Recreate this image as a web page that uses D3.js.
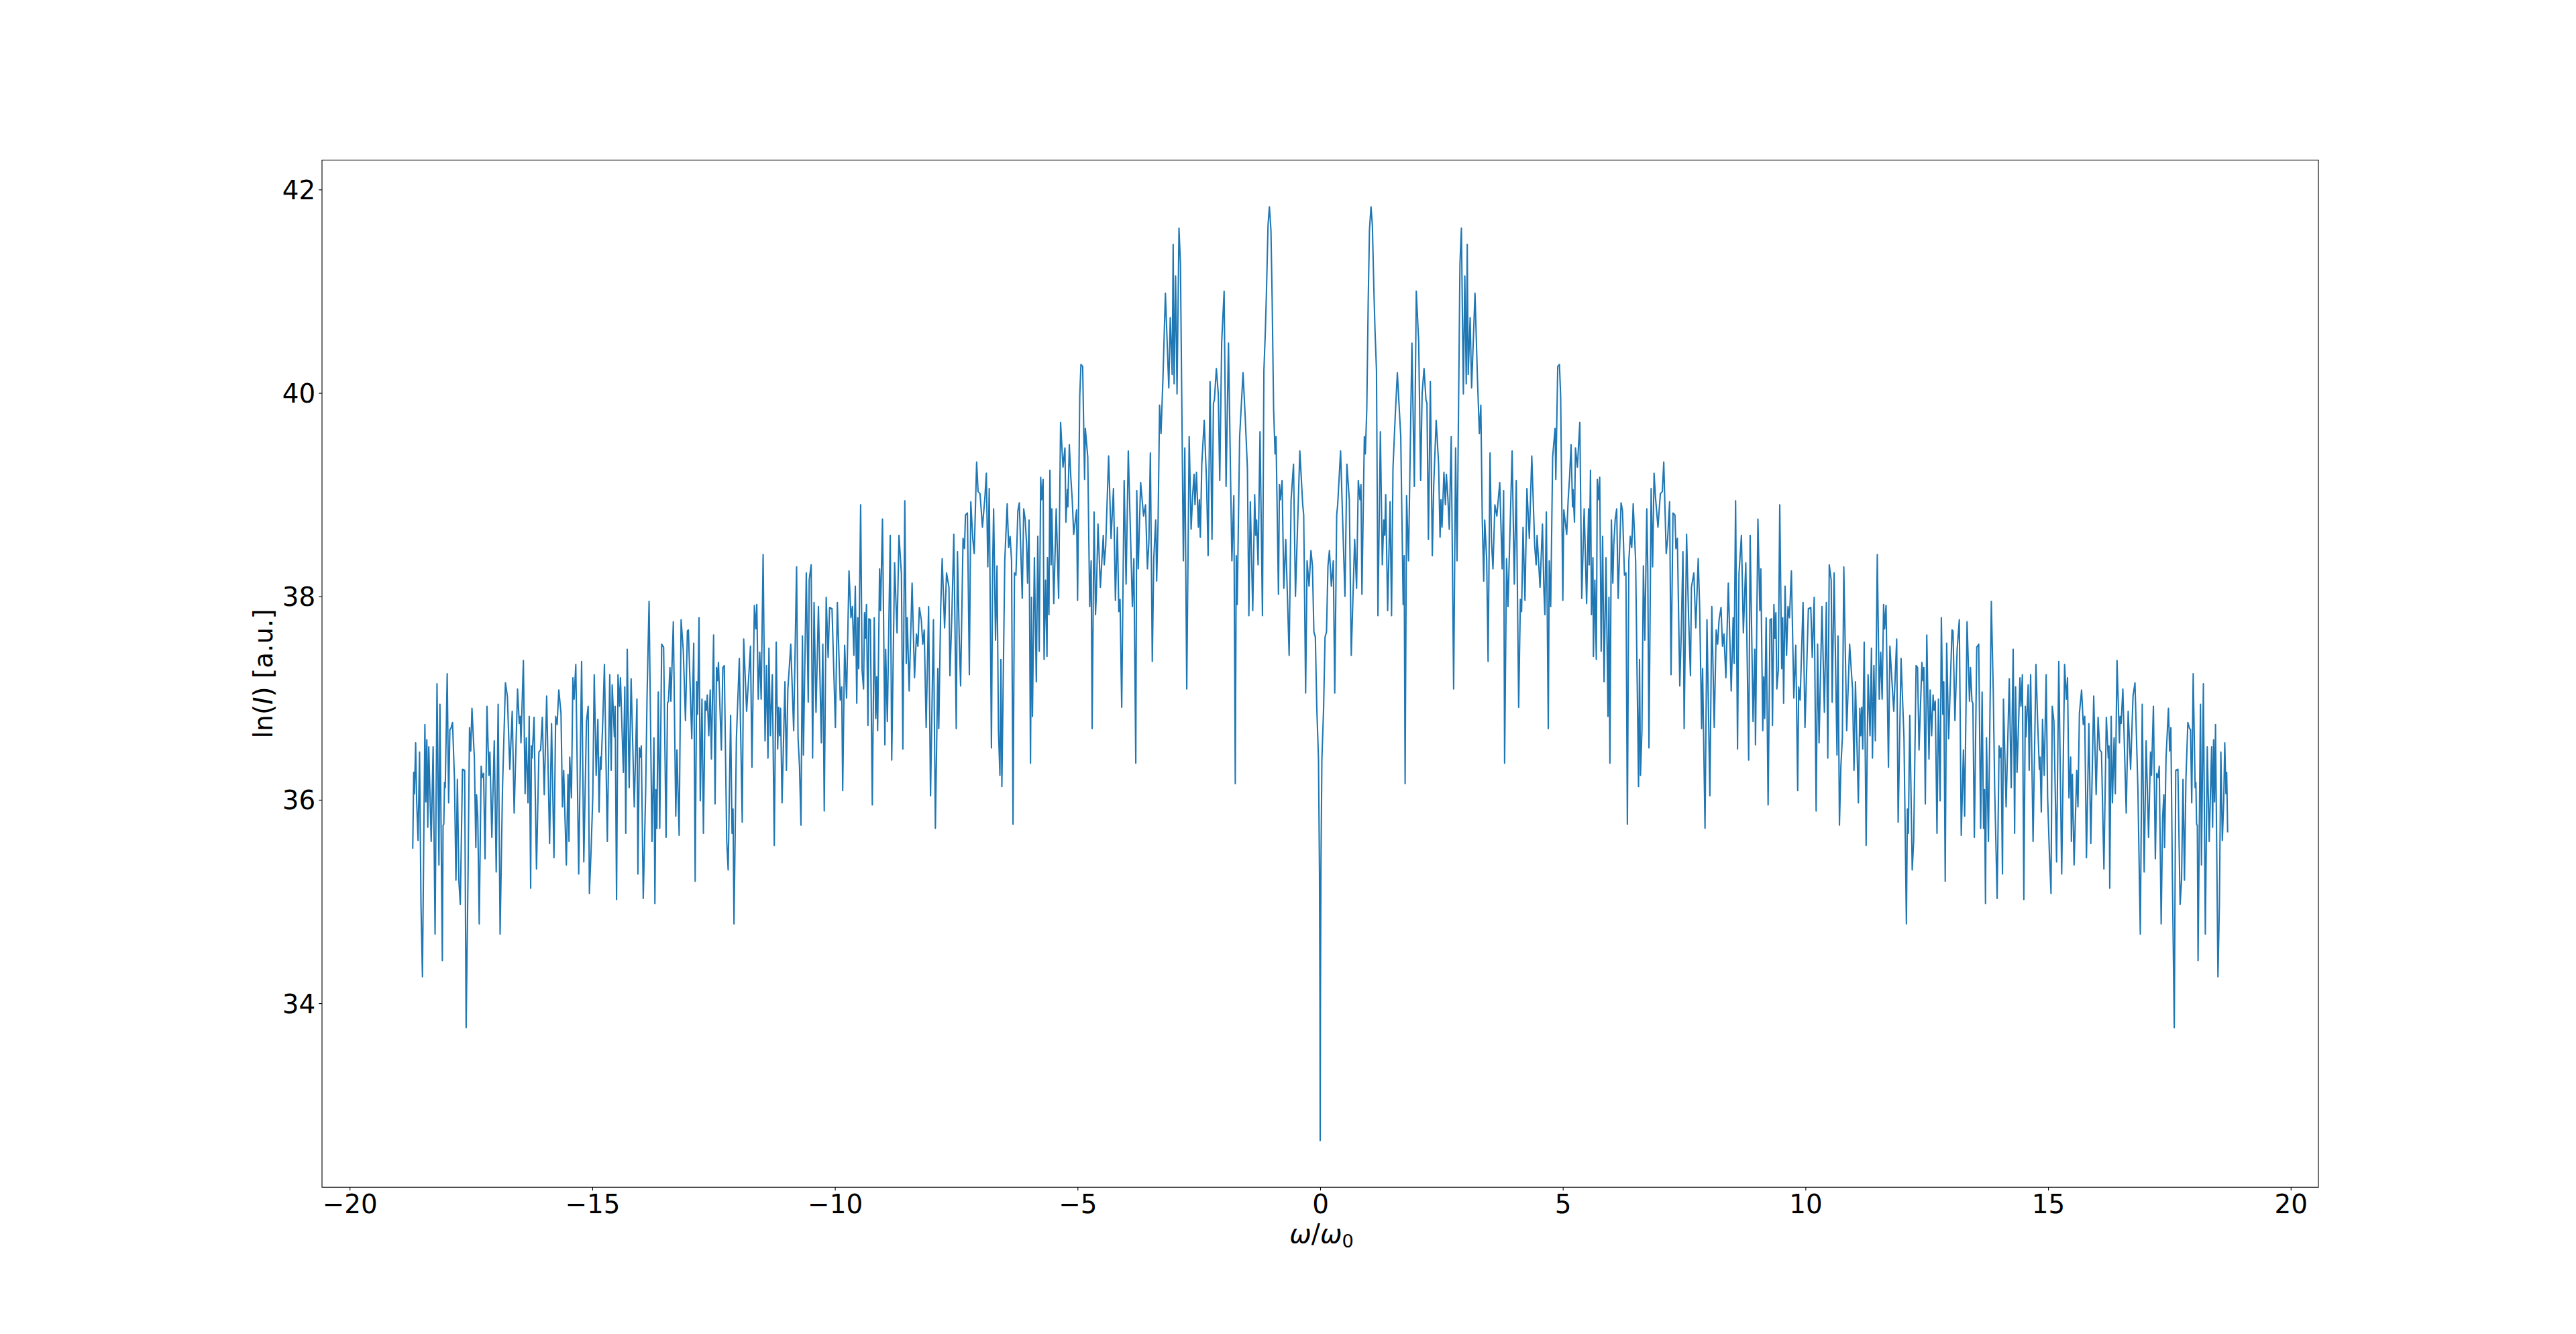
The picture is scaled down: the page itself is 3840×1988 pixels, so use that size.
<!DOCTYPE html>
<html>
<head>
<meta charset="utf-8">
<script src="https://cdn.jsdelivr.net/npm/d3@7"></script>
<style>
html, body { margin: 0; padding: 0; background: #ffffff; }
svg { display: block; }
</style>
</head>
<body>
<svg id="chart" width="3840" height="1988"></svg>
<script>
// Angular frequency grid (positive side, in units of omega_0)
const omegaPos = [
  0, 0.005, 0.015, 0.035, 0.07, 0.1, 0.13, 0.16, 0.19, 0.23, 0.27, 0.3, 0.34, 0.36, 0.42, 0.51, 0.55, 0.6, 0.64, 0.71,
  0.75, 0.785, 0.82, 0.84, 0.86, 0.91, 0.93, 0.96, 0.99, 1.015, 1.047, 1.075, 1.107, 1.13, 1.16, 1.19, 1.24, 1.28, 1.31, 1.33,
  1.35, 1.39, 1.44, 1.47, 1.5, 1.545, 1.59, 1.66, 1.71, 1.73, 1.75, 1.78, 1.82, 1.89, 1.94, 1.98, 2.03, 2.07, 2.1, 2.14,
  2.18, 2.2, 2.23, 2.27, 2.31, 2.34, 2.39, 2.44, 2.47, 2.49, 2.51, 2.55, 2.58, 2.6, 2.63, 2.66, 2.7, 2.75, 2.79, 2.82,
  2.88, 2.91, 2.95, 2.98, 3.01, 3.03, 3.05, 3.09, 3.12, 3.19, 3.24, 3.28, 3.31, 3.34, 3.37, 3.39, 3.43, 3.46, 3.5, 3.53,
  3.56, 3.6, 3.64, 3.7, 3.75, 3.78, 3.8, 3.84, 3.87, 3.955, 4.0, 4.04, 4.09, 4.125, 4.15, 4.18, 4.22, 4.26, 4.31, 4.36,
  4.42, 4.45, 4.47, 4.53, 4.58, 4.61, 4.63, 4.66, 4.7, 4.72, 4.75, 4.79, 4.84, 4.855, 4.895, 4.93, 4.955, 5.0, 5.02, 5.08, 5.11,
  5.14, 5.17, 5.2, 5.21, 5.24, 5.26, 5.3, 5.35, 5.39, 5.44, 5.49, 5.53, 5.545, 5.57, 5.59, 5.62, 5.63, 5.66, 5.69, 5.71,
  5.74, 5.76, 5.79, 5.82, 5.85, 5.89, 5.93, 5.95, 5.97, 6.0, 6.03, 6.05, 6.08, 6.11, 6.14, 6.2, 6.23, 6.27, 6.3, 6.33,
  6.36, 6.39, 6.42, 6.45, 6.5, 6.56, 6.58, 6.6, 6.63, 6.66, 6.69, 6.73, 6.75, 6.775, 6.82, 6.85, 6.88, 6.91, 6.96, 7.01,
  7.05, 7.08, 7.13, 7.16, 7.2, 7.23, 7.27, 7.31, 7.33, 7.36, 7.41, 7.44, 7.475, 7.5, 7.55, 7.59, 7.63, 7.65, 7.7, 7.74,
  7.79, 7.82, 7.86, 7.88, 7.93, 7.97, 8.03, 8.07, 8.12, 8.16, 8.19, 8.22, 8.26, 8.29, 8.32, 8.36, 8.41, 8.47, 8.51, 8.53,
  8.56, 8.6, 8.63, 8.68, 8.72, 8.77, 8.83, 8.86, 8.92, 8.955, 8.97, 9.02, 9.06, 9.08, 9.12, 9.14, 9.16, 9.19, 9.23, 9.27,
  9.3, 9.32, 9.35, 9.37, 9.39, 9.41, 9.44, 9.47, 9.51, 9.53, 9.55, 9.58, 9.61, 9.64, 9.67, 9.71, 9.76, 9.8, 9.84, 9.86,
  9.89, 9.95, 9.99, 10.06, 10.11, 10.14, 10.18, 10.22, 10.25, 10.28, 10.34, 10.39, 10.43, 10.46, 10.49, 10.53, 10.55, 10.59, 10.65, 10.67,
  10.7, 10.73, 10.76, 10.79, 10.85, 10.91, 10.95, 10.97, 11.0, 11.03, 11.09, 11.12, 11.14, 11.16, 11.18, 11.21, 11.25, 11.29, 11.33, 11.36,
  11.38, 11.41, 11.44, 11.48, 11.52, 11.55, 11.58, 11.61, 11.63, 11.66, 11.71, 11.74, 11.78, 11.82, 11.88, 11.91, 11.97, 12.03, 12.08, 12.1,
  12.12, 12.15, 12.2, 12.23, 12.28, 12.31, 12.34, 12.4, 12.42, 12.44, 12.47, 12.5, 12.545, 12.57, 12.6, 12.63, 12.65, 12.675, 12.71, 12.74,
  12.775, 12.8, 12.83, 12.85, 12.88, 12.91, 12.95, 13.02, 13.04, 13.08, 13.125, 13.17, 13.21, 13.255, 13.28, 13.33, 13.38, 13.4, 13.43, 13.45,
  13.48, 13.53, 13.57, 13.61, 13.64, 13.67, 13.69, 13.71, 13.73, 13.77, 13.83, 13.87, 13.9, 13.95, 13.99, 14.01, 14.03, 14.06, 14.08, 14.135,
  14.2, 14.24, 14.28, 14.31, 14.33, 14.36, 14.42, 14.44, 14.47, 14.5, 14.53, 14.545, 14.59, 14.61, 14.64, 14.69, 14.75, 14.785, 14.82, 14.835,
  14.86, 14.885, 14.92, 14.96, 14.99, 15.025, 15.06, 15.085, 15.12, 15.175, 15.22, 15.28, 15.34, 15.375, 15.4, 15.43, 15.465, 15.48, 15.5, 15.535,
  15.59, 15.615, 15.645, 15.69, 15.725, 15.755, 15.79, 15.84, 15.88, 15.94, 15.99, 16.03, 16.065, 16.1, 16.15, 16.2, 16.24, 16.255, 16.27, 16.3,
  16.325, 16.36, 16.385, 16.42, 16.47, 16.485, 16.505, 16.54, 16.61, 16.65, 16.7, 16.75, 16.79, 16.85, 16.9, 16.94, 16.98, 17.02, 17.07, 17.11,
  17.13, 17.17, 17.21, 17.24, 17.27, 17.29, 17.33, 17.36, 17.385, 17.4, 17.43, 17.48, 17.505, 17.53, 17.56, 17.6, 17.63, 17.675, 17.72, 17.75,
  17.78, 17.81, 17.84, 17.88, 17.915, 17.935, 17.96, 17.99, 18.03, 18.045, 18.06, 18.075, 18.09, 18.14, 18.16, 18.2, 18.24, 18.28, 18.32, 18.37,
  18.39, 18.41, 18.43, 18.45, 18.5, 18.53, 18.56, 18.59, 18.62, 18.64, 18.665, 18.68, 18.7
];

// ln(I) read at +omegaPos[i]
const lnIPos = [
  32.65, 34.0, 35.3, 36.4, 36.9, 37.6, 37.65, 38.3, 38.45, 38.1, 38.35, 37.05, 38.8, 38.9, 39.43, 38.0, 39.3, 38.95, 37.42, 38.56,
  38.08, 39.14, 38.95, 39.1, 38.02, 39.57, 39.4, 39.84, 40.92, 41.6, 41.83, 41.65, 41.0, 40.61, 40.22, 37.81, 39.62, 38.31, 38.75, 38.6,
  39.0, 37.86, 38.93, 37.81, 39.26, 39.76, 40.2, 39.57, 37.92, 38.4, 36.16, 38.99, 38.35, 40.49, 39.08, 41.0, 40.5, 39.14, 39.99, 40.24,
  39.93, 39.9, 38.56, 40.11, 38.4, 39.1, 39.73, 39.3, 38.58, 38.95, 38.68, 39.22, 38.9, 39.2, 38.98, 38.66, 39.57, 37.09, 39.46, 38.35,
  41.27, 41.62, 39.99, 41.15, 40.09, 41.46, 40.18, 40.74, 40.05, 40.98, 40.15, 39.6, 39.88, 38.75, 38.15, 38.75, 38.37, 37.36, 39.41, 38.54,
  38.27, 38.9, 38.79, 39.12, 38.27, 39.04, 36.36, 38.37, 37.9, 39.43, 38.12, 39.14, 36.91, 37.97, 37.85, 38.68, 37.96, 39.06, 38.57, 39.38,
  38.5, 38.31, 38.6, 38.09, 38.71, 38.06, 37.82, 38.83, 36.7, 38.35, 37.9, 39.37, 39.65, 39.15, 40.26, 40.28, 39.97, 37.96, 38.85, 38.61, 38.95,
  39.18, 39.49, 38.88, 39.05, 38.73, 39.46, 39.27, 39.71, 37.98, 38.86, 37.93, 38.86, 38.31, 39.24, 37.82, 38.38, 37.41, 38.16, 37.38, 39.15,
  38.95, 39.17, 37.46, 38.59, 37.16, 38.38, 36.82, 37.99, 36.36, 38.75, 38.13, 38.51, 38.76, 38.86, 37.98, 38.92, 38.84, 38.21, 38.23, 35.76,
  38.35, 38.59, 38.48, 38.91, 38.35, 36.13, 37.38, 36.24, 36.68, 38.3, 37.57, 38.86, 38.29, 36.51, 39.06, 38.29, 39.21, 38.97, 38.68, 39.01,
  39.03, 39.32, 38.42, 38.57, 38.93, 37.23, 38.82, 38.8, 38.47, 38.57, 37.12, 37.63, 38.44, 36.7, 38.61, 37.82, 37.22, 38.09, 38.23, 37.69,
  38.37, 37.89, 36.7, 37.29, 35.72, 37.77, 36.04, 37.9, 36.71, 37.67, 37.53, 37.77, 37.89, 37.51, 37.63, 37.2, 38.13, 37.07, 37.79, 37.34,
  38.94, 36.5, 38.22, 38.6, 37.64, 38.33, 36.39, 38.6, 36.77, 37.48, 36.54, 38.76, 37.86, 38.27, 36.68, 37.21, 36.8, 37.79, 35.95, 37.77,
  37.78, 36.73, 37.92, 37.59, 37.84, 37.09, 37.27, 38.9, 37.29, 37.79, 36.95, 38.1, 37.42, 37.9, 37.79, 38.25, 37.0, 37.52, 36.09, 37.11,
  36.98, 37.94, 36.71, 37.88, 37.89, 37.4, 37.99, 35.89, 37.53, 36.56, 37.9, 36.86, 37.94, 36.41, 38.31, 38.16, 36.96, 38.23, 36.44, 37.61,
  35.75, 36.33, 36.61, 38.29, 36.68, 37.53, 37.23, 37.09, 36.29, 37.16, 35.97, 36.9, 36.63, 36.91, 36.5, 37.55, 35.55, 37.23, 36.63, 37.49,
  36.41, 37.32, 36.58, 38.41, 36.99, 37.45, 36.99, 37.92, 37.68, 37.91, 36.32, 37.51, 37.18, 36.87, 37.58, 35.78, 37.39, 36.61, 34.78, 35.91,
  35.67, 36.83, 35.31, 35.6, 37.32, 37.3, 36.49, 37.35, 37.17, 37.3, 35.96, 37.62, 36.4, 37.08, 36.63, 37.03, 36.88, 36.97, 35.67, 36.99,
  35.99, 37.79, 36.84, 37.16, 35.2, 37.54, 36.6, 37.67, 37.66, 36.78, 37.47, 37.77, 35.65, 36.49, 35.84, 37.75, 36.97, 37.3, 36.97, 36.95,
  35.63, 37.5, 37.53, 35.72, 37.06, 35.72, 36.1, 34.98, 36.61, 35.59, 37.95, 37.06, 36.09, 35.03, 36.53, 36.42, 36.51, 35.27, 36.99, 35.93,
  37.19, 36.12, 37.48, 35.67, 37.11, 36.27, 37.2, 36.92, 37.23, 35.02, 36.92, 36.62, 37.13, 36.29, 37.23, 35.59, 37.33, 36.76, 36.3, 36.42,
  35.88, 36.79, 36.24, 37.23, 36.03, 35.5, 35.08, 36.92, 36.77, 35.39, 37.36, 35.27, 37.33, 36.99, 37.2, 36.02, 36.42, 35.59, 36.25, 35.36,
  36.29, 35.93, 36.85, 37.08, 36.74, 36.82, 35.43, 36.75, 35.57, 37.02, 36.05, 36.81, 36.49, 36.47, 35.32, 36.81, 36.41, 36.53, 35.13, 36.82,
  35.97, 36.61, 36.06, 37.37, 36.56, 36.82, 36.75, 37.09, 35.87, 36.87, 36.3, 37.02, 37.15, 36.12, 34.68, 36.94, 35.29, 36.58, 35.63, 36.47,
  36.24, 36.92, 35.42, 36.26, 36.22, 36.33, 34.78, 35.83, 36.05, 35.53, 36.41, 36.9, 36.48, 36.71, 35.29, 33.76, 36.29, 36.3, 34.97, 35.21,
  36.2, 35.21, 36.2, 36.76, 36.7, 36.69, 35.97, 37.24, 36.12, 36.17, 35.76, 35.75, 34.42, 36.94, 35.36, 37.14, 34.68, 36.52, 35.59, 36.52,
  35.73, 36.59, 35.98, 36.74, 34.26, 34.97, 36.47, 35.6, 36.0, 36.56, 36.06, 36.27, 35.68
];

// ln(I) read at -omegaPos[i], i = 1 .. end (mirror side of the spectrum)
const lnINeg = [
  34.0, 35.3, 36.4, 36.9, 37.6, 37.65, 38.3, 38.45, 38.1, 38.35, 37.05, 38.8, 38.9, 39.43, 38.0, 39.3, 38.95, 37.42, 38.56,
  38.08, 39.14, 38.95, 39.1, 38.02, 39.57, 39.4, 39.84, 40.92, 41.6, 41.83, 41.65, 41.0, 40.61, 40.22, 37.81, 39.62, 38.31, 38.75, 38.6,
  39.0, 37.86, 38.93, 37.81, 39.26, 39.76, 40.2, 39.57, 37.92, 38.4, 36.16, 38.99, 38.35, 40.49, 39.08, 41.0, 40.5, 39.14, 39.99, 40.24,
  39.93, 39.9, 38.56, 40.11, 38.4, 39.1, 39.73, 39.3, 38.58, 38.95, 38.68, 39.22, 38.9, 39.2, 38.98, 38.66, 39.57, 37.09, 39.46, 38.35,
  41.27, 41.62, 39.99, 41.15, 40.09, 41.46, 40.18, 40.74, 40.05, 40.98, 40.15, 39.6, 39.88, 38.75, 38.15, 38.75, 38.37, 37.36, 39.41, 38.54,
  38.27, 38.9, 38.79, 39.12, 38.27, 39.04, 36.36, 38.37, 37.9, 39.43, 38.12, 39.14, 36.91, 37.97, 37.85, 38.68, 37.96, 39.06, 38.57, 39.38,
  38.5, 38.31, 38.6, 38.09, 38.71, 38.06, 37.82, 38.83, 36.7, 38.35, 37.9, 39.37, 39.65, 39.15, 40.26, 40.28, 39.97, 37.96, 38.85, 38.61, 38.95,
  39.18, 39.49, 38.88, 39.05, 38.73, 39.46, 39.27, 39.71, 37.98, 38.86, 37.93, 38.86, 38.31, 39.24, 37.82, 38.38, 37.41, 38.16, 37.38, 39.15,
  38.95, 39.17, 37.46, 38.59, 37.16, 38.38, 36.82, 37.99, 36.36, 38.75, 38.13, 38.51, 38.76, 38.86, 37.98, 38.92, 38.84, 38.21, 38.23, 35.76,
  38.35, 38.59, 38.48, 38.91, 38.35, 36.13, 37.38, 36.24, 36.68, 38.3, 37.57, 38.86, 38.29, 36.51, 39.06, 38.29, 39.21, 38.97, 38.68, 39.01,
  39.03, 39.32, 38.42, 38.57, 38.93, 37.23, 38.82, 38.8, 38.47, 38.57, 37.12, 37.63, 38.44, 36.7, 38.61, 37.82, 37.22, 38.09, 38.23, 37.69,
  38.37, 37.89, 36.7, 37.29, 35.72, 37.77, 36.04, 37.9, 36.71, 37.67, 37.53, 37.77, 37.89, 37.51, 37.63, 37.2, 38.13, 37.07, 37.79, 37.34,
  38.94, 36.5, 38.22, 38.6, 37.64, 38.33, 36.39, 38.6, 36.77, 37.48, 36.54, 38.76, 37.86, 38.27, 36.68, 37.21, 36.8, 37.79, 35.95, 37.77,
  37.78, 36.73, 37.92, 37.59, 37.84, 37.09, 37.27, 38.9, 37.29, 37.79, 36.95, 38.1, 37.42, 37.9, 37.79, 38.25, 37.0, 37.52, 36.09, 37.11,
  36.98, 37.94, 36.71, 37.88, 37.89, 37.4, 37.99, 35.89, 37.53, 36.56, 37.9, 36.86, 37.94, 36.41, 38.31, 38.16, 36.96, 38.23, 36.44, 37.61,
  35.75, 36.33, 36.61, 38.29, 36.68, 37.53, 37.23, 37.09, 36.29, 37.16, 35.97, 36.9, 36.63, 36.91, 36.5, 37.55, 35.55, 37.23, 36.63, 37.49,
  36.41, 37.32, 36.58, 38.41, 36.99, 37.45, 36.99, 37.92, 37.68, 37.91, 36.32, 37.51, 37.18, 36.87, 37.58, 35.78, 37.39, 36.61, 34.78, 35.91,
  35.67, 36.83, 35.31, 35.6, 37.32, 37.3, 36.49, 37.35, 37.17, 37.3, 35.96, 37.62, 36.4, 37.08, 36.63, 37.03, 36.88, 36.97, 35.67, 36.99,
  35.99, 37.79, 36.84, 37.16, 35.2, 37.54, 36.6, 37.67, 37.66, 36.78, 37.47, 37.77, 35.65, 36.49, 35.84, 37.75, 36.97, 37.3, 36.97, 36.95,
  35.63, 37.5, 37.53, 35.72, 37.06, 35.72, 36.1, 34.98, 36.61, 35.59, 37.95, 37.06, 36.09, 35.03, 36.53, 36.42, 36.51, 35.27, 36.99, 35.93,
  37.19, 36.12, 37.48, 35.67, 37.11, 36.27, 37.2, 36.92, 37.23, 35.02, 36.92, 36.62, 37.13, 36.29, 37.23, 35.59, 37.33, 36.76, 36.3, 36.42,
  35.88, 36.79, 36.24, 37.23, 36.03, 35.5, 35.08, 36.92, 36.77, 35.39, 37.36, 35.27, 37.33, 36.99, 37.2, 36.02, 36.42, 35.59, 36.25, 35.36,
  36.29, 35.93, 36.85, 37.08, 36.74, 36.82, 35.43, 36.75, 35.57, 37.02, 36.05, 36.81, 36.49, 36.47, 35.32, 36.81, 36.41, 36.53, 35.13, 36.82,
  35.97, 36.61, 36.06, 37.37, 36.56, 36.82, 36.75, 37.09, 35.87, 36.87, 36.3, 37.02, 37.15, 36.12, 34.68, 36.94, 35.29, 36.58, 35.63, 36.47,
  36.24, 36.92, 35.42, 36.26, 36.22, 36.33, 34.78, 35.83, 36.05, 35.53, 36.41, 36.9, 36.48, 36.71, 35.29, 33.76, 36.29, 36.3, 34.97, 35.21,
  36.2, 35.21, 36.2, 36.76, 36.7, 36.69, 35.97, 37.24, 36.12, 36.17, 35.76, 35.75, 34.42, 36.94, 35.36, 37.14, 34.68, 36.52, 35.59, 36.52,
  35.73, 36.59, 35.98, 36.74, 34.26, 34.97, 36.47, 35.6, 36.0, 36.56, 36.06, 36.27, 35.52
];

const xTickValues = [-20, -15, -10, -5, 0, 5, 10, 15, 20];
const yTickValues = [34, 36, 38, 40, 42];
const xLabelSymbol = "ω";
const xLabelSub = "0";
const yLabelPre = "ln(";
const yLabelVar = "I";
const yLabelPost = ") [a.u.]";

// ---------- drawing ----------
const svg = d3.select("#chart");
const frame = { left: 480, right: 3456, top: 238.6, bottom: 1769.3 };
const FONT = "'DejaVu Sans', 'Liberation Sans', sans-serif";
const FS = 38.9;
const TICK = 4.86;
const LINE_COLOR = "#1f77b4";

const n = Math.min(omegaPos.length - 1, lnINeg.length);
const pts = [];
for (let i = n; i >= 1; i--) pts.push({ w: -omegaPos[i], v: lnINeg[i - 1] });
for (let i = 0; i < Math.min(omegaPos.length, lnIPos.length); i++) pts.push({ w: omegaPos[i], v: lnIPos[i] });

const [wMin, wMax] = d3.extent(pts, d => d.w);
const [vMin, vMax] = d3.extent(pts, d => d.v);
const wPad = (wMax - wMin) * 0.05;
const vPad = (vMax - vMin) * 0.05;

const x = d3.scaleLinear().domain([wMin - wPad, wMax + wPad]).range([frame.left, frame.right]);
const y = d3.scaleLinear().domain([vMin - vPad, vMax + vPad]).range([frame.bottom, frame.top]);

svg.append("rect").attr("x", 0).attr("y", 0).attr("width", 3840).attr("height", 1988).attr("fill", "#ffffff");

// data line
svg.append("path")
  .datum(pts)
  .attr("fill", "none")
  .attr("stroke", LINE_COLOR)
  .attr("stroke-width", 2.08)
  .attr("stroke-linejoin", "round")
  .attr("d", d3.line().x(d => x(d.w)).y(d => y(d.v)));

// axes
const gx = svg.append("g")
  .attr("transform", `translate(0,${frame.bottom})`)
  .call(d3.axisBottom(x).tickValues(xTickValues).tickSizeInner(TICK).tickSizeOuter(0)
    .tickPadding(4.86).tickFormat(d3.format("d")));
gx.select(".domain").remove();
gx.attr("font-family", FONT).attr("font-size", FS);
gx.selectAll(".tick line").attr("stroke", "#000").attr("stroke-width", 1.11);
gx.selectAll(".tick text").attr("fill", "#000").attr("dy", "0.74em");

const gy = svg.append("g")
  .attr("transform", `translate(${frame.left},0)`)
  .call(d3.axisLeft(y).tickValues(yTickValues).tickSizeInner(TICK).tickSizeOuter(0)
    .tickPadding(4.86).tickFormat(d3.format("d")));
gy.select(".domain").remove();
gy.attr("font-family", FONT).attr("font-size", FS);
gy.selectAll(".tick line").attr("stroke", "#000").attr("stroke-width", 1.11);
gy.selectAll(".tick text").attr("fill", "#000").attr("dy", "0.36em");

// spines
svg.append("rect")
  .attr("x", frame.left).attr("y", frame.top)
  .attr("width", frame.right - frame.left).attr("height", frame.bottom - frame.top)
  .attr("fill", "none").attr("stroke", "#000").attr("stroke-width", 1.11);

// x label
const xl = svg.append("text")
  .attr("x", (frame.left + frame.right) / 2 + 2)
  .attr("y", 1852)
  .attr("text-anchor", "middle")
  .attr("font-family", FONT)
  .attr("font-size", FS)
  .attr("fill", "#000");
xl.append("tspan").attr("font-style", "italic").text(xLabelSymbol);
xl.append("tspan").text("/");
xl.append("tspan").attr("font-style", "italic").text(xLabelSymbol);
xl.append("tspan").attr("font-size", FS * 0.7).attr("dy", 7).text(xLabelSub);

// y label
const yl = svg.append("text")
  .attr("transform", `translate(406,${(frame.top + frame.bottom) / 2}) rotate(-90)`)
  .attr("text-anchor", "middle")
  .attr("font-family", FONT)
  .attr("font-size", FS)
  .attr("fill", "#000");
yl.append("tspan").text(yLabelPre);
yl.append("tspan").attr("font-style", "italic").text(yLabelVar);
yl.append("tspan").text(yLabelPost);
</script>
</body>
</html>
